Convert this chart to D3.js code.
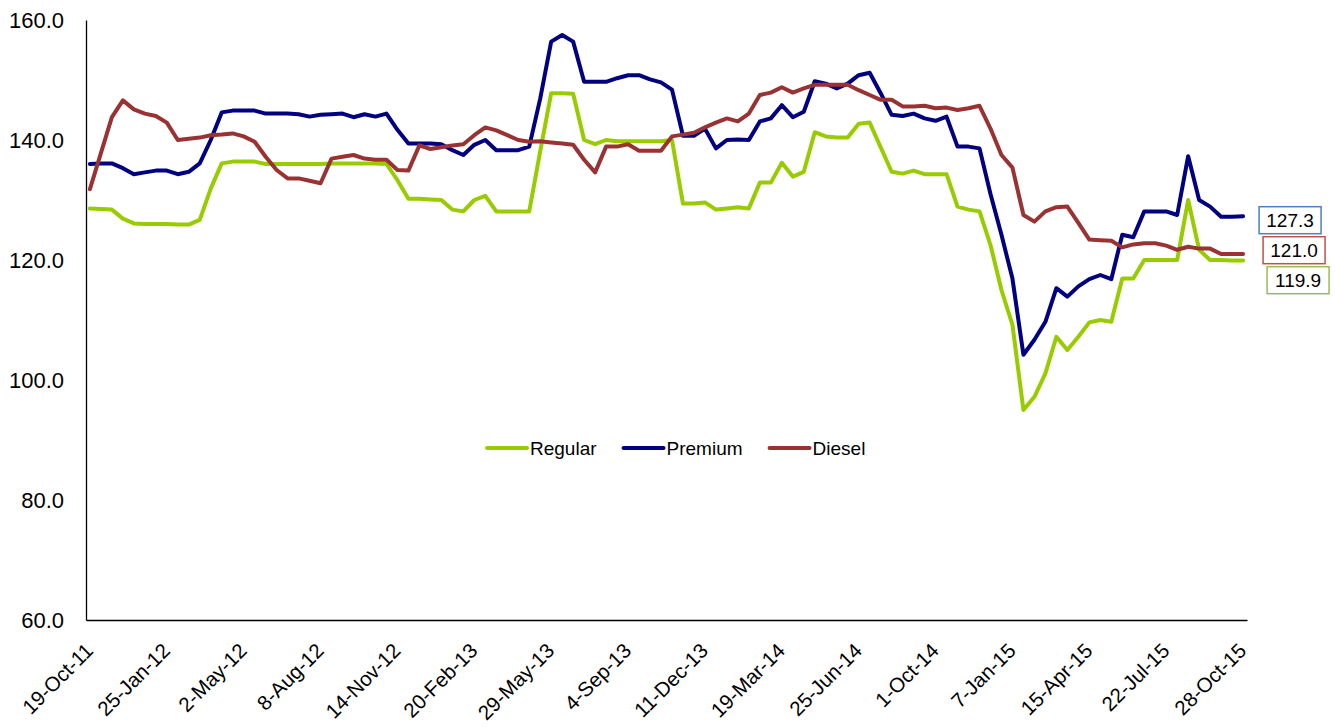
<!DOCTYPE html>
<html>
<head>
<meta charset="utf-8">
<script src="https://cdn.jsdelivr.net/npm/d3@7"></script>
<style>
  html, body { margin: 0; padding: 0; background: #fff; }
  svg { display: block; font-family: Arial, "Liberation Sans", sans-serif; }
</style>
</head>
<body>
<svg id="chart" width="1335" height="727"></svg>
<script>
// biweekly prices, first week 19-Oct-11
const START_DATE = '19-Oct-11';
const STEP_DAYS = 14;

const tickLabels = ['19-Oct-11', '25-Jan-12', '2-May-12', '8-Aug-12', '14-Nov-12', '20-Feb-13',
  '29-May-13', '4-Sep-13', '11-Dec-13', '19-Mar-14', '25-Jun-14', '1-Oct-14', '7-Jan-15',
  '15-Apr-15', '22-Jul-15', '28-Oct-15'];

const yTicks = [60, 80, 100, 120, 140, 160];

const seriesNames = ['Regular', 'Premium', 'Diesel'];

const regular = [128.6, 128.5, 128.4, 126.9, 126.1, 126.0, 126.0, 126.0, 125.9, 125.9,
  126.7, 131.9, 136.1, 136.4, 136.4, 136.4, 136.0, 136.0, 136.0, 136.0,
  136.0, 136.0, 136.1, 136.1, 136.1, 136.1, 136.1, 136.0, 133.3, 130.2,
  130.2, 130.1, 130.0, 128.4, 128.1, 130.0, 130.7, 128.1, 128.1, 128.1,
  128.1, 138.1, 147.8, 147.8, 147.7, 140.0, 139.3, 140.0, 139.8, 139.8,
  139.8, 139.8, 139.8, 140.0, 129.4, 129.4, 129.6, 128.4, 128.6, 128.8,
  128.6, 132.9, 132.9, 136.2, 133.9, 134.7, 141.3, 140.6, 140.4, 140.4,
  142.7, 142.9, 138.8, 134.7, 134.4, 134.9, 134.3, 134.3, 134.3, 128.9,
  128.4, 128.1, 122.5, 115.0, 109.2, 95.0, 97.2, 101.1, 107.2, 105.0,
  107.2, 109.6, 110.0, 109.7, 116.9, 116.9, 120.0, 120.0, 120.0, 120.0,
  130.0, 121.7, 120.0, 120.0, 119.9, 119.9];

const premium = [136.0, 136.1, 136.1, 135.3, 134.3, 134.6, 134.9, 134.9, 134.3, 134.7,
  136.1, 140.0, 144.6, 144.9, 144.9, 144.9, 144.4, 144.4, 144.4, 144.3,
  143.9, 144.2, 144.3, 144.4, 143.8, 144.3, 143.9, 144.4, 141.7, 139.4,
  139.4, 139.4, 139.3, 138.3, 137.5, 139.2, 140.0, 138.3, 138.3, 138.3,
  138.9, 146.9, 156.4, 157.5, 156.4, 149.7, 149.7, 149.7, 150.3, 150.8,
  150.8, 150.1, 149.6, 148.4, 140.7, 140.7, 141.9, 138.6, 140.0, 140.1,
  140.0, 143.1, 143.6, 145.8, 143.8, 144.7, 149.8, 149.4, 148.6, 149.4,
  150.8, 151.2, 147.8, 144.2, 144.0, 144.4, 143.6, 143.2, 143.9, 138.9,
  138.9, 138.6, 131.0, 124.2, 116.9, 104.2, 106.7, 109.7, 115.3, 113.9,
  115.6, 116.8, 117.5, 116.8, 124.2, 123.8, 128.1, 128.1, 128.1, 127.5,
  137.3, 130.0, 128.9, 127.2, 127.2, 127.3];

const diesel = [131.8, 137.8, 143.8, 146.6, 145.1, 144.4, 144.0, 142.9, 140.0, 140.2,
  140.4, 140.8, 140.9, 141.1, 140.6, 139.7, 137.2, 135.0, 133.6, 133.6,
  133.2, 132.8, 136.9, 137.2, 137.5, 136.9, 136.7, 136.7, 135.0, 134.9,
  139.1, 138.5, 138.8, 139.1, 139.3, 140.8, 142.1, 141.6, 140.8, 140.0,
  139.7, 139.8, 139.6, 139.4, 139.2, 136.7, 134.6, 138.9, 138.9, 139.3,
  138.2, 138.2, 138.2, 140.6, 140.9, 141.2, 142.1, 142.9, 143.6, 143.1,
  144.4, 147.5, 147.9, 148.8, 147.9, 148.6, 149.2, 149.2, 149.2, 149.2,
  148.3, 147.5, 146.7, 146.7, 145.6, 145.6, 145.7, 145.3, 145.4, 145.0,
  145.3, 145.7, 141.9, 137.5, 135.4, 127.5, 126.4, 128.1, 128.8, 128.9,
  126.2, 123.4, 123.3, 123.2, 122.1, 122.6, 122.8, 122.8, 122.4, 121.7,
  122.2, 121.9, 121.9, 121.0, 121.0, 121.0];

const lineColors = ['#99cc00', '#000080', '#993333'];
const boxColors = ['#9bbb59', '#4f81bd', '#c0504d'];

const parseDate = d3.timeParse('%d-%b-%y');
const start = parseDate(START_DATE);
const dates = regular.map((_, i) => d3.timeDay.offset(start, i * STEP_DAYS));
const tickDates = tickLabels.map(parseDate);

const series = [regular, premium, diesel].map((values, k) => ({
  name: seriesNames[k],
  color: lineColors[k],
  box: boxColors[k],
  values: values.map((v, i) => ({ date: dates[i], value: v })),
}));

const svg = d3.select('#chart');

const x = d3.scaleTime()
  .domain([d3.timeDay.offset(dates[0], -5), d3.timeDay.offset(dates[dates.length - 1], 5)])
  .range([86, 1247]);

const y = d3.scaleLinear().domain([60, 160]).range([620, 20]);

// y axis
const yAxis = svg.append('g')
  .attr('transform', `translate(${x.range()[0]},0)`)
  .call(d3.axisLeft(y).tickValues(yTicks).tickSize(0).tickSizeOuter(0).tickPadding(22)
    .tickFormat(d3.format('.1f')));
yAxis.select('.domain').attr('stroke', '#000').attr('stroke-width', 1.3);
yAxis.selectAll('text').attr('font-size', 22).attr('fill', '#000')
  .attr('font-family', 'Arial, "Liberation Sans", sans-serif');

// x axis, labels turned 45 degrees
const xAxis = svg.append('g')
  .attr('transform', `translate(0,${y.range()[0]})`)
  .call(d3.axisBottom(x).tickValues(tickDates).tickSize(0).tickSizeOuter(0)
    .tickFormat((d, i) => tickLabels[i]));
xAxis.select('.domain').attr('stroke', '#000').attr('stroke-width', 1.3);
xAxis.selectAll('text')
  .attr('font-size', 20.5).attr('fill', '#000')
  .attr('font-family', 'Arial, "Liberation Sans", sans-serif')
  .attr('y', 0).attr('dy', 0)
  .attr('text-anchor', 'end')
  .attr('transform', 'translate(4,32) rotate(-45)');

// lines
const line = d3.line()
  .x((d) => x(d.date))
  .y((d) => y(d.value));

svg.append('g')
  .selectAll('path')
  .data(series)
  .join('path')
  .attr('fill', 'none')
  .attr('stroke', (d) => d.color)
  .attr('stroke-width', 4)
  .attr('stroke-linejoin', 'round')
  .attr('stroke-linecap', 'round')
  .attr('d', (d) => line(d.values));

// end labels, stacked so they don't overlap
const ends = series.map((s) => ({ ...s, last: s.values[s.values.length - 1] }))
  .sort((a, b) => b.last.value - a.last.value);
let prev = null;
ends.forEach((d, k) => {
  const yy = y(d.last.value);
  d.cy = prev === null ? yy + 4 : Math.max(yy - 4, prev + 30);
  d.bx = x(d.last.date) + 16 + k * 4;
  prev = d.cy;
});

const endLabels = svg.append('g').selectAll('g').data(ends).join('g')
  .attr('transform', (d) => `translate(${d.bx},${d.cy})`);
endLabels.append('rect')
  .attr('x', 0).attr('y', -13.5).attr('width', 62).attr('height', 27)
  .attr('fill', '#fff').attr('stroke', (d) => d.box).attr('stroke-width', 1.5);
endLabels.append('text')
  .attr('x', 31).attr('dy', '0.35em')
  .attr('text-anchor', 'middle')
  .attr('font-size', 19)
  .attr('fill', '#000')
  .text((d) => d3.format('.1f')(d.last.value));

// legend
const legend = svg.append('g').attr('transform', 'translate(487,448)');
let lx = 0;
series.forEach((s) => {
  const item = legend.append('g').attr('transform', `translate(${lx},0)`);
  item.append('line')
    .attr('x1', 0).attr('x2', 40).attr('y1', 0).attr('y2', 0)
    .attr('stroke', s.color).attr('stroke-width', 4).attr('stroke-linecap', 'round');
  const t = item.append('text')
    .attr('x', 43).attr('dy', '0.35em')
    .attr('font-size', 19).attr('fill', '#000')
    .text(s.name);
  lx += 43 + t.node().getComputedTextLength() + 27;
});
</script>
</body>
</html>
